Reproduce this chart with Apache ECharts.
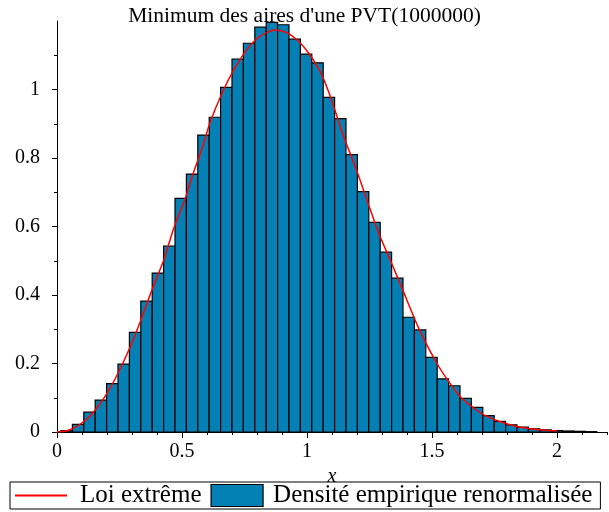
<!DOCTYPE html>
<html>
<head>
<meta charset="utf-8">
<script src="https://cdn.jsdelivr.net/npm/echarts@6/dist/echarts.min.js"></script>
<style>
  html, body { margin: 0; padding: 0; background: #fff; }
  #main { width: 609px; height: 512px; }
</style>
</head>
<body>
<div id="main"></div>
<script>
// histogram bins (start, width) and bar heights
var binStart = 0.016;
var binWidth = 0.0456;
var binHeights = [
  0.004, 0.022, 0.058, 0.093, 0.141, 0.198, 0.291, 0.382, 0.464, 0.543,
  0.682, 0.753, 0.867, 0.919, 1.006, 1.089, 1.135, 1.182, 1.196, 1.189,
  1.147, 1.103, 1.078, 0.977, 0.915, 0.810, 0.702, 0.612, 0.525, 0.449,
  0.335, 0.298, 0.218, 0.155, 0.135, 0.098, 0.072, 0.048, 0.031, 0.021,
  0.014, 0.009, 0.006, 0.004, 0.003, 0.002, 0.001
];

// red curve, points
var curveX = [0, 0.05, 0.107, 0.153, 0.2, 0.247, 0.293, 0.333, 0.38, 0.427,
  0.467, 0.513, 0.54, 0.58, 0.613, 0.66, 0.707, 0.753, 0.8, 0.847,
  0.873, 0.92, 0.967, 1.007, 1.053, 1.093, 1.147, 1.193, 1.24, 1.287,
  1.333, 1.38, 1.453, 1.52, 1.567, 1.613, 1.66, 1.707, 1.773, 1.84,
  1.907, 2.0];
var curveY = [0, 0.006, 0.030, 0.064, 0.113, 0.176, 0.249, 0.322, 0.415, 0.502,
  0.595, 0.682, 0.745, 0.828, 0.905, 0.989, 1.057, 1.110, 1.149, 1.169,
  1.174, 1.166, 1.140, 1.106, 1.052, 0.980, 0.862, 0.775, 0.677, 0.580,
  0.502, 0.420, 0.293, 0.200, 0.147, 0.103, 0.074, 0.050, 0.030, 0.016,
  0.008, 0.003];

var xMajor = [0, 0.5, 1, 1.5, 2];
var yMajor = [0, 0.2, 0.4, 0.6, 0.8, 1];
var yMinor = [0.1, 0.3, 0.5, 0.7, 0.9, 1.1];

var titleText = "Minimum des aires d'une PVT(1000000)";
var lineName = 'Loi extrême';
var barName = 'Densité empirique renormalisée';

var barColor = '#0580b5';
var font = 'Liberation Serif';

var histData = binHeights.map(function (h, i) {
  var x0 = +(binStart + i * binWidth).toFixed(4);
  return [x0, +(x0 + binWidth).toFixed(4), h];
});
var curveData = curveX.map(function (x, i) { return [x, curveY[i]]; });

var chart = echarts.init(document.getElementById('main'));

chart.setOption({
  animation: false,
  backgroundColor: '#fff',
  textStyle: { fontFamily: font, color: '#000' },
  title: {
    text: titleText,
    left: 'center',
    top: 0,
    textStyle: { fontFamily: font, fontWeight: 'normal', fontSize: 21.5, color: '#000' }
  },
  legend: {
    left: 10,
    top: 482,
    itemGap: 9,
    itemWidth: 52,
    itemHeight: 22,
    padding: [1, 8, 1, 4],
    borderColor: '#000',
    borderWidth: 1,
    borderRadius: 0,
    textStyle: { fontFamily: font, fontSize: 25, color: '#000' },
    data: [
      { name: lineName, itemStyle: { opacity: 0 }, textStyle: { padding: [0, 0, 0, 8] } },
      { name: barName, icon: 'rect', itemStyle: { color: barColor, borderColor: '#000', borderWidth: 1.2 },
        textStyle: { padding: [0, 0, 0, 5] } }
    ]
  },
  grid: { left: 57, right: 2, top: 21, bottom: 80 },
  xAxis: [{
    type: 'value',
    position: 'bottom',
    min: 0, max: 2.2, interval: 0.5,
    name: 'x',
    nameLocation: 'middle',
    nameGap: 24,
    nameTextStyle: { fontFamily: font, fontStyle: 'italic', fontSize: 20, color: '#000' },
    axisLine: { onZero: false, lineStyle: { color: '#000', width: 1 } },
    axisTick: { length: 6, customValues: xMajor, lineStyle: { color: '#000' } },
    axisLabel: { customValues: xMajor, margin: 10, fontSize: 20, fontFamily: font, color: '#000' },
    splitLine: { show: false }
  }, {
    type: 'value',
    position: 'bottom',
    min: 0, max: 2.2, interval: 0.1,
    axisLine: { show: false, onZero: false },
    axisTick: { length: 3, lineStyle: { color: '#000' } },
    axisLabel: { show: false },
    splitLine: { show: false }
  }],
  yAxis: [{
    type: 'value',
    position: 'left',
    min: 0, max: 1.2, interval: 0.2,
    axisLine: { show: true, onZero: false, lineStyle: { color: '#000', width: 1 } },
    axisTick: { show: true, length: 5, customValues: yMajor, lineStyle: { color: '#000' } },
    axisLabel: { customValues: yMajor, margin: 17, fontSize: 20, fontFamily: font, color: '#000' },
    splitLine: { show: false }
  }, {
    type: 'value',
    position: 'left',
    min: 0, max: 1.2, interval: 0.1,
    axisLine: { show: false, onZero: false },
    axisTick: { show: true, length: 3, customValues: yMinor, lineStyle: { color: '#000' } },
    axisLabel: { show: false },
    splitLine: { show: false }
  }],
  series: [{
    name: barName,
    type: 'custom',
    xAxisIndex: 0,
    yAxisIndex: 0,
    itemStyle: { color: barColor, borderColor: '#000', borderWidth: 1.2 },
    encode: { x: [0, 1], y: 2 },
    data: histData,
    renderItem: function (params, api) {
      var p0 = api.coord([api.value(0), api.value(2)]);
      var p1 = api.coord([api.value(1), 0]);
      return {
        type: 'rect',
        shape: { x: p0[0], y: p0[1], width: p1[0] - p0[0], height: p1[1] - p0[1] },
        style: { fill: barColor, stroke: '#000', lineWidth: 1.2 }
      };
    },
    z: 2
  }, {
    name: lineName,
    type: 'line',
    xAxisIndex: 0,
    yAxisIndex: 0,
    data: curveData,
    smooth: 0.3,
    symbol: 'none',
    lineStyle: { color: '#ff0000', width: 1.5 },
    itemStyle: { color: '#ff0000' },
    z: 3
  }]
});
</script>
</body>
</html>
